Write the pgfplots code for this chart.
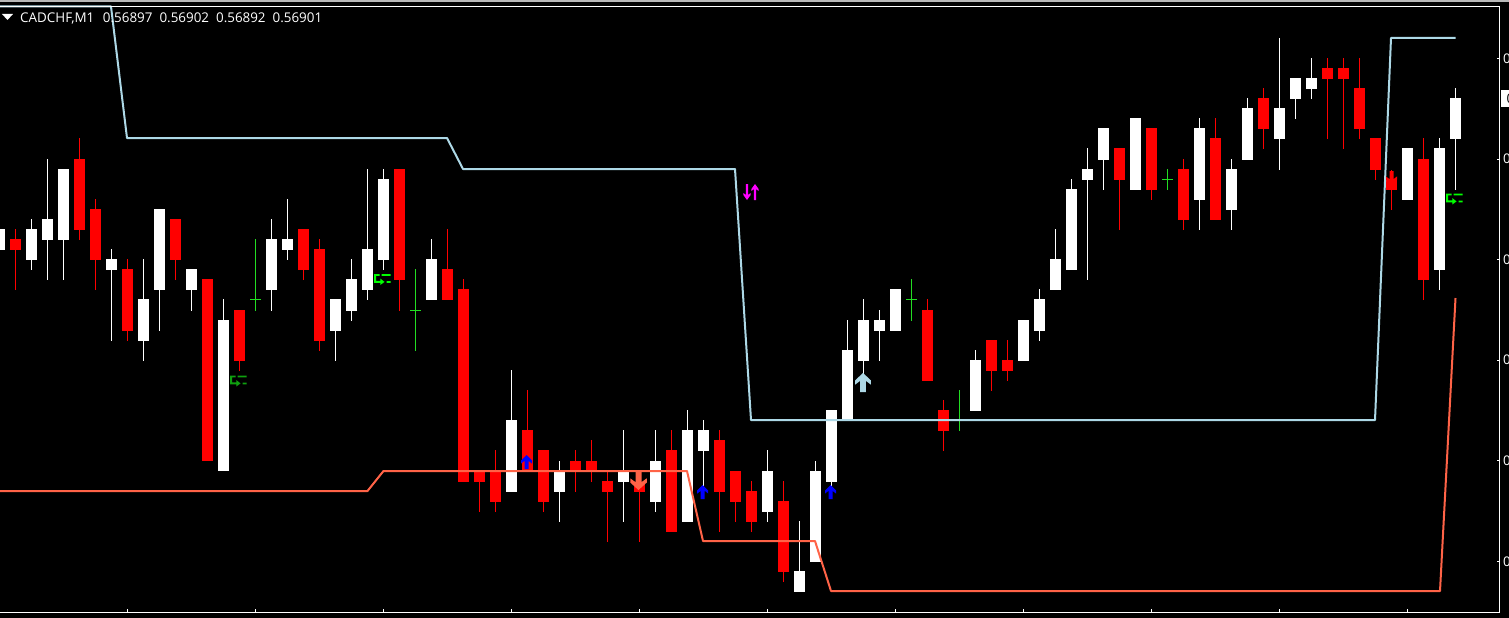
\documentclass[border=0pt]{standalone}
\usepackage{fontspec}
\setmainfont{Open Sans}
\usepackage{pgfplots}
\usepackage{pgfplotstable}
\pgfplotsset{compat=1.18}
\definecolor{mtblue}{HTML}{ADD8E6}
\definecolor{mtred}{HTML}{FF6347}
\definecolor{mtdoji}{HTML}{22DD22}
\definecolor{mtgreen}{HTML}{00FF00}
\definecolor{mtgreend}{HTML}{0FA00F}
\definecolor{mtmag}{HTML}{FF00FF}
\newcommand\Mv[2]{\pgfpathmoveto{\pgfpoint{#1pt}{#2pt}}}
\newcommand\Ln[2]{\pgfpathlineto{\pgfpoint{#1pt}{#2pt}}}
\newcommand\Rc[4]{\pgfpathrectanglecorners{\pgfpoint{#1pt}{#2pt}}{\pgfpoint{#3pt}{#4pt}}}
\pgfdeclareplotmark{mtup}{%
  \Mv{0}{7}\Ln{5.5}{1.5}\Ln{5.5}{-1.6}\Ln{2}{1.2}\Ln{2}{-7}\Ln{-2}{-7}\Ln{-2}{1.2}\Ln{-5.5}{-1.6}\Ln{-5.5}{1.5}\pgfpathclose
  \pgfusepathqfill}
\pgfdeclareplotmark{mtswap}{%
  \Mv{-4}{-8}\Ln{-0.4}{-3}\Ln{-0.4}{-1}\Ln{-2.9}{-3}\Ln{-2.9}{8}\Ln{-5.1}{8}\Ln{-5.1}{-3}\Ln{-7.6}{-1}\Ln{-7.6}{-3}\pgfpathclose
  \Mv{4}{8}\Ln{7.6}{3}\Ln{7.6}{1}\Ln{5.1}{3}\Ln{5.1}{-8}\Ln{2.9}{-8}\Ln{2.9}{3}\Ln{0.4}{1}\Ln{0.4}{3}\pgfpathclose
  \pgfusepathqfill}
\pgfdeclareplotmark{mtexit}{%
  \Rc{-8.5}{5.5}{-3}{3.6}\Rc{-8.5}{5.5}{-6.5}{-3.4}\Rc{-8.5}{-1.4}{-1}{-3.4}%
  \Rc{-1}{5.5}{8}{3.6}\Rc{4}{-1.6}{8}{-3.4}%
  \Mv{-2.2}{1}\Ln{2}{-2.4}\Ln{-2.2}{-5.5}\pgfpathclose
  \pgfusepathqfill}
% x, high, body top, body bottom, low (chart pixels)
\pgfplotstableread{
x h t b l
-0.5 229 229 250 250
31.5 219 229 260 270
47.5 159 219 240 280
63.5 169 169 240 280
111.5 249 259 270 341
143.5 259 299 341 361
159.5 209 209 290 331
191.5 269 269 290 311
223.5 299 320 471 471
271.5 219 239 290 311
287.5 199 239 250 260
335.5 299 299 331 361
351.5 259 279 311 321
367.5 169 249 290 300
383.5 169 179 260 270
431.5 239 259 300 300
511.5 370 420 492 492
559.5 461 471 492 522
623.5 430 471 482 522
655.5 430 461 502 512
687.5 410 430 522 522
703.5 420 430 451 491
767.5 450 471 512 522
799.5 521 571 592 592
815.5 461 471 562 562
831.5 410 410 482 492
847.5 320 350 420 420
863.5 299 320 361 375
879.5 310 320 331 361
895.5 289 289 331 331
975.5 350 360 411 411
1023.5 320 320 361 361
1039.5 289 299 331 341
1055.5 229 259 290 290
1071.5 179 189 270 270
1087.5 148 169 180 280
1103.5 128 128 160 190
1135.5 118 118 190 190
1199.5 118 128 200 230
1231.5 159 169 210 230
1247.5 98 108 160 160
1279.5 38 108 139 170
1295.5 78 78 99 119
1311.5 58 78 89 99
1407.5 148 148 200 200
1439.5 138 148 270 290
1455.5 88 98 139 190
}\whitecandles
\pgfplotstableread{
x h t b l
15.5 229 239 250 290
79.5 138 159 230 240
95.5 199 209 260 290
127.5 259 269 331 341
175.5 219 219 260 280
207.5 279 279 461 461
239.5 310 310 361 371
303.5 229 229 270 280
319.5 239 249 341 351
399.5 169 169 280 311
447.5 229 269 300 300
463.5 279 289 482 482
479.5 471 471 482 512
495.5 450 471 502 512
527.5 390 430 471 471
543.5 450 450 502 512
575.5 450 461 471 492
591.5 440 461 471 482
607.5 471 481 492 542
639.5 471 482 492 542
671.5 430 450 532 532
719.5 430 440 492 532
735.5 471 471 502 522
751.5 481 491 522 532
783.5 481 501 572 582
927.5 299 310 381 381
943.5 400 410 431 451
991.5 340 340 371 391
1007.5 340 360 371 381
1119.5 148 148 180 230
1151.5 128 128 190 200
1183.5 159 169 220 230
1215.5 118 138 220 220
1263.5 88 98 129 149
1327.5 58 68 79 139
1343.5 58 68 79 149
1359.5 58 88 129 139
1375.5 138 138 170 180
1391.5 170 180 190 210
1423.5 138 159 280 300
}\redcandles
\pgfplotstableread{
x h c l
255.5 239 299.5 311
415.5 269 310.5 351
911.5 279 299.5 321
959.5 390 420 431
1167.5 169 179.5 190
}\dojis
\begin{document}
\begin{tikzpicture}[x=1pt,y=1pt]
\path[use as bounding box,clip] (0,0) rectangle (1509,618);
\fill[black] (0,0) rectangle (1509,618);
\fill[black!28] (0,616) rectangle (1509,618);
\begin{axis}[
  at={(0pt,5.5pt)},anchor=south west,
  scale only axis,width=1499.5pt,height=606pt,
  xmin=0,xmax=1499.5,ymin=6.5,ymax=612.5,
  y dir=reverse,clip=false,
  axis x line*=bottom,axis y line*=right,
  axis line style={-,white,line width=1pt},
  tick style={white,line width=1pt},
  x tick style={/pgfplots/major tick length=4pt},
  y tick style={/pgfplots/major tick length=3pt},
  xtick={127.5,255.5,383.5,511.5,639.5,767.5,895.5,1023.5,1151.5,1279.5,1407.5},
  xticklabels={},
  ytick={58.5,159.1,259.6,360.2,460.8,561.3},
  yticklabels={0.56905,0.56895,0.56885,0.56875,0.56865,0.56855},
  yticklabel style={anchor=west,text=white,font=\fontsize{13.3}{15}\selectfont,xshift=0pt,inner xsep=3.5pt},
]
% wicks
\addplot[draw=none,forget plot,error bars/.cd,y dir=both,y explicit,error mark=none,error bar style={white,line width=1pt}]
  table[x=x,y expr=(\thisrow{h}+\thisrow{l})/2,y error expr=(\thisrow{l}-\thisrow{h})/2]{\whitecandles};
\addplot[draw=none,forget plot,error bars/.cd,y dir=both,y explicit,error mark=none,error bar style={red,line width=1pt}]
  table[x=x,y expr=(\thisrow{h}+\thisrow{l})/2,y error expr=(\thisrow{l}-\thisrow{h})/2]{\redcandles};
\addplot[draw=none,forget plot,error bars/.cd,y dir=both,y explicit,error mark=none,error bar style={mtdoji,line width=1pt}]
  table[x=x,y expr=(\thisrow{h}+\thisrow{l})/2,y error expr=(\thisrow{l}-\thisrow{h})/2]{\dojis};
\addplot[draw=none,forget plot,error bars/.cd,x dir=both,x fixed=5.5,error mark=none,error bar style={mtdoji,line width=1pt}]
  table[x=x,y=c]{\dojis};
% bodies
\addplot[draw=none,forget plot,error bars/.cd,y dir=both,y explicit,error mark=none,error bar style={white,line width=11pt}]
  table[x=x,y expr=(\thisrow{t}+\thisrow{b})/2,y error expr=(\thisrow{b}-\thisrow{t})/2]{\whitecandles};
\addplot[draw=none,forget plot,error bars/.cd,y dir=both,y explicit,error mark=none,error bar style={red,line width=11pt}]
  table[x=x,y expr=(\thisrow{t}+\thisrow{b})/2,y error expr=(\thisrow{b}-\thisrow{t})/2]{\redcandles};
% bands
\addplot[mtblue,line width=2pt,no marks,line join=bevel] coordinates {(0,6.5)(111,6.5)(127,138)(447,138)(463,169)(735,169)(751,420)(1375,420)(1391,38)(1455.5,38)};
\addplot[mtred,line width=2pt,no marks,line join=bevel] coordinates {(0,491)(367.5,491)(383.5,471)(687,471)(703,541)(815,541)(831,591)(1440,591)(1455.5,298)};
% signals
\addplot[only marks,mark=mtup,mark options={fill=blue}] coordinates {(526.5,462)(702.7,492)(830.5,492)};
\addplot[only marks,mark=mtup,mark options={fill=mtblue,xscale=1.45,yscale=1.36}] coordinates {(863,382.5)};
\addplot[only marks,mark=mtup,mark options={fill=mtred,rotate=180,xscale=1.5,yscale=1.36}] coordinates {(638.5,480.5)};
\addplot[only marks,mark=mtup,mark options={fill=red,rotate=180}] coordinates {(1391.5,178)};
\addplot[only marks,mark=mtswap,mark options={fill=mtmag}] coordinates {(751,192)};
\addplot[only marks,mark=mtexit,mark options={fill=mtgreen}] coordinates {(382.5,279.5)(1454.5,199)};
\addplot[only marks,mark=mtexit,mark options={fill=mtgreend}] coordinates {(238.5,381)};
% frame and header
\draw[white,line width=1pt] (axis cs:0,6.5) -- (axis cs:1499.5,6.5);
\fill[white] (axis cs:2,14) -- (axis cs:13,14) -- (axis cs:7.5,20) -- cycle;
\node[anchor=base west,inner sep=0pt,text=white,font=\fontsize{13.4}{15}\selectfont] at (axis cs:20,23) {CADCHF,M1\hspace{8.6pt}0.56897\hspace{7pt}0.56902\hspace{7pt}0.56892\hspace{7pt}0.56901};
\node[anchor=west,fill=white,text=black,inner xsep=5.5pt,inner ysep=0pt,minimum height=17pt,font=\fontsize{13.3}{15}\selectfont] at (axis cs:1501,98.5) {0.56901};
\end{axis}
\end{tikzpicture}
\end{document}
